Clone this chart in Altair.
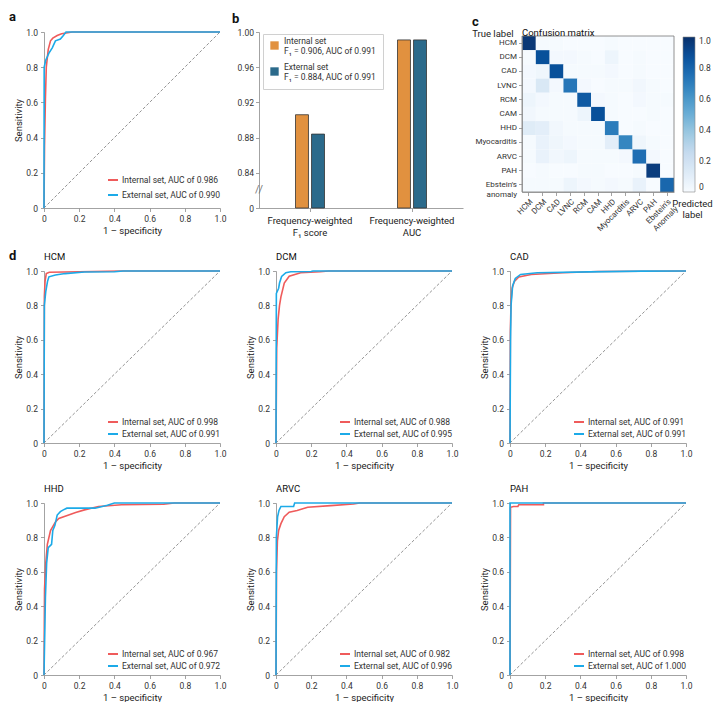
import altair as alt
import pandas as pd

FONT = "Roboto"
RED = "#EF5B5B"
BLUE = "#1CAAE8"
ORANGE = "#E1913F"
TEAL = "#2B6A8B"
AXIS_GRAY = "#8c8c8c"
TXT = "#222222"

ROC_TICKS = [0, 0.2, 0.4, 0.6, 0.8, 1.0]
ROC_LABEL = "datum.value == 0 ? '0' : format(datum.value, '.1f')"

# ---------------- panel a: overall ROC ----------------
A_INT_AUC, A_EXT_AUC = "0.986", "0.990"
A_INT_FPR = [0, 0.003, 0.008, 0.013, 0.024, 0.037, 0.05, 0.075, 0.1, 0.16, 0.3, 1.0]
A_INT_TPR = [0, 0.35, 0.62, 0.8, 0.9, 0.95, 0.965, 0.98, 0.99, 1.0, 1.0, 1.0]
A_EXT_FPR = [0, 0.001, 0.01, 0.028, 0.047, 0.065, 0.093, 0.11, 0.125, 1.0]
A_EXT_TPR = [0, 0.8, 0.84, 0.88, 0.91, 0.95, 0.96, 0.98, 1.0, 1.0]

# ---------------- panel b: bars ----------------
B_METRICS = ["F1", "AUC"]
B_SETS = ["Internal set", "External set"]
B_INTERNAL = [0.906, 0.991]
B_EXTERNAL = [0.884, 0.991]
B_TICKS = [0.80, 0.84, 0.88, 0.92, 0.96, 1.00]

# ---------------- panel c: confusion matrix ----------------
CM_CLASSES = ["HCM", "DCM", "CAD", "LVNC", "RCM", "CAM", "HHD", "Myocarditis",
              "ARVC", "PAH", "Ebstein's anomaly"]
CM_HCM = [0.97, 0.01, 0.01, 0.00, 0.00, 0.00, 0.01, 0.00, 0.00, 0.00, 0.00]
CM_DCM = [0.01, 0.88, 0.02, 0.02, 0.01, 0.00, 0.05, 0.00, 0.01, 0.00, 0.00]
CM_CAD = [0.02, 0.04, 0.88, 0.01, 0.01, 0.01, 0.02, 0.00, 0.01, 0.00, 0.00]
CM_LVNC = [0.02, 0.15, 0.02, 0.73, 0.02, 0.00, 0.01, 0.01, 0.03, 0.01, 0.00]
CM_RCM = [0.05, 0.02, 0.01, 0.01, 0.84, 0.02, 0.01, 0.00, 0.02, 0.01, 0.01]
CM_CAM = [0.03, 0.01, 0.01, 0.01, 0.05, 0.88, 0.01, 0.00, 0.00, 0.01, 0.00]
CM_HHD = [0.12, 0.10, 0.03, 0.01, 0.01, 0.01, 0.71, 0.00, 0.01, 0.00, 0.00]
CM_MYO = [0.01, 0.07, 0.04, 0.02, 0.01, 0.01, 0.10, 0.67, 0.04, 0.01, 0.00]
CM_ARVC = [0.01, 0.07, 0.03, 0.05, 0.01, 0.01, 0.01, 0.02, 0.76, 0.02, 0.00]
CM_PAH = [0.00, 0.01, 0.00, 0.00, 0.01, 0.01, 0.00, 0.00, 0.01, 0.95, 0.00]
CM_EBS = [0.01, 0.01, 0.01, 0.05, 0.02, 0.01, 0.02, 0.01, 0.07, 0.00, 0.79]
CM_ROWS = [CM_HCM, CM_DCM, CM_CAD, CM_LVNC, CM_RCM, CM_CAM, CM_HHD, CM_MYO,
           CM_ARVC, CM_PAH, CM_EBS]
BLUES = ["#f7fbff", "#deebf7", "#c6dbef", "#9ecae1", "#6baed6", "#4292c6",
         "#2171b5", "#08519c", "#08306b"]
CB_TICKS = [0, 0.2, 0.4, 0.6, 0.8, 1.0]

# ---------------- panel d: per-class ROC ----------------
HCM_AUC = ("0.998", "0.991")
HCM_INT_FPR = [0, 0.002, 0.006, 0.013, 0.03, 0.2, 0.44, 1.0]
HCM_INT_TPR = [0, 0.85, 0.94, 0.985, 0.993, 0.996, 1.0, 1.0]
HCM_EXT_FPR = [0, 0.002, 0.01, 0.02, 0.028, 0.065, 0.12, 0.23, 0.4, 0.45, 1.0]
HCM_EXT_TPR = [0, 0.8, 0.88, 0.94, 0.966, 0.977, 0.985, 0.994, 0.996, 1.0, 1.0]

DCM_AUC = ("0.988", "0.995")
DCM_INT_FPR = [0, 0.004, 0.012, 0.02, 0.028, 0.047, 0.075, 0.14, 0.25, 0.3, 1.0]
DCM_INT_TPR = [0, 0.55, 0.72, 0.8, 0.85, 0.93, 0.97, 0.99, 0.996, 1.0, 1.0]
DCM_EXT_FPR = [0, 0.002, 0.015, 0.02, 0.032, 0.056, 0.084, 0.2, 0.21, 1.0]
DCM_EXT_TPR = [0, 0.87, 0.9, 0.93, 0.968, 0.99, 0.996, 0.997, 1.0, 1.0]

CAD_AUC = ("0.991", "0.991")
CAD_INT_FPR = [0, 0.002, 0.006, 0.012, 0.025, 0.05, 0.12, 0.3, 0.5, 1.0]
CAD_INT_TPR = [0, 0.65, 0.82, 0.9, 0.94, 0.965, 0.98, 0.99, 0.997, 1.0]
CAD_EXT_FPR = [0, 0.003, 0.006, 0.015, 0.03, 0.06, 0.155, 0.45, 0.75, 1.0]
CAD_EXT_TPR = [0, 0.6, 0.8, 0.915, 0.957, 0.98, 0.99, 0.995, 0.999, 1.0]

HHD_AUC = ("0.967", "0.972")
HHD_INT_FPR = [0, 0.003, 0.01, 0.019, 0.037, 0.065, 0.084, 0.14, 0.18, 0.23, 0.31, 0.44, 0.68, 0.74, 1.0]
HHD_INT_TPR = [0, 0.5, 0.65, 0.76, 0.84, 0.89, 0.91, 0.93, 0.945, 0.96, 0.98, 0.99, 0.993, 1.0, 1.0]
HHD_EXT_FPR = [0, 0.008, 0.015, 0.024, 0.043, 0.05, 0.062, 0.075, 0.093, 0.11, 0.13, 0.29, 0.36, 0.4, 1.0]
HHD_EXT_TPR = [0, 0.45, 0.65, 0.74, 0.76, 0.84, 0.87, 0.93, 0.95, 0.96, 0.97, 0.97, 0.987, 1.0, 1.0]

ARVC_AUC = ("0.982", "0.996")
ARVC_INT_FPR = [0, 0.003, 0.008, 0.015, 0.028, 0.047, 0.075, 0.12, 0.18, 0.31, 0.44, 0.475, 1.0]
ARVC_INT_TPR = [0, 0.6, 0.78, 0.84, 0.88, 0.92, 0.947, 0.956, 0.975, 0.985, 0.994, 1.0, 1.0]
ARVC_EXT_FPR = [0, 0.002, 0.009, 0.017, 0.028, 0.1, 0.106, 1.0]
ARVC_EXT_TPR = [0, 0.8, 0.92, 0.957, 0.98, 0.98, 1.0, 1.0]

PAH_AUC = ("0.998", "1.000")
PAH_INT_FPR = [0, 0.003, 0.02, 0.045, 0.05, 0.19, 0.19, 1.0]
PAH_INT_TPR = [0, 0.975, 0.98, 0.98, 0.99, 0.99, 1.0, 1.0]
PAH_EXT_FPR = [0, 0, 1.0]
PAH_EXT_TPR = [0, 1.0, 1.0]

# ---------------- layout numbers ----------------
PW = 176          # ROC plot width
H0 = 179          # row-1 view height
PH_TOP = 176      # row-1 plot height
PH_D = 172        # row-d plot height
B_SHIFT = -17     # bar panel starts left of its column
C_SHIFT = 12      # heatmap starts right of its column
HM_W = 152
HM_TOP, HM_BOT = 4, 160


def text_layer(text, x, y, size, weight="normal", align="left", baseline="middle"):
    return alt.Chart(pd.DataFrame({"t": [text]})).mark_text(
        font=FONT, fontSize=size, fontWeight=weight, align=align,
        baseline=baseline, color="#111111"
    ).encode(text="t:N", x=alt.value(x), y=alt.value(y))


def roc_panel(int_fpr, int_tpr, ext_fpr, ext_tpr, aucs, view_w, view_h, plot_h,
              xoff, leg_y, row_pad, letter=None, title=None):
    lab_i = f"Internal set, AUC of {aucs[0]}"
    lab_e = f"External set, AUC of {aucs[1]}"
    di = pd.DataFrame({"fpr": int_fpr, "tpr": int_tpr, "i": list(range(len(int_fpr))), "set": lab_i})
    de = pd.DataFrame({"fpr": ext_fpr, "tpr": ext_tpr, "i": list(range(len(ext_fpr))), "set": lab_e})
    dd = pd.DataFrame({"fpr": [0, 1], "tpr": [0, 1], "i": [0, 1]})
    xs = alt.Scale(domain=[0, 1], range=[0, PW], nice=False, zero=False)
    ys = alt.Scale(domain=[0, 1], range=[plot_h, 0], nice=False, zero=False)
    xax = alt.Axis(values=ROC_TICKS, labelExpr=ROC_LABEL, title="1 – specificity", offset=xoff)
    yax = alt.Axis(values=ROC_TICKS, labelExpr=ROC_LABEL, title="Sensitivity")
    X = alt.X("fpr:Q", scale=xs, axis=xax)
    Y = alt.Y("tpr:Q", scale=ys, axis=yax)
    cs = alt.Scale(domain=[lab_i, lab_e], range=[RED, BLUE])
    leg = alt.Legend(orient="none", legendX=63, legendY=leg_y, title=None,
                     symbolType="stroke", symbolSize=100, symbolStrokeWidth=2,
                     labelOffset=3, rowPadding=row_pad, padding=0,
                     labelFontSize=8.5, labelColor="#333333")
    diag = alt.Chart(dd).mark_line(color="#777777", strokeDash=[3, 2], strokeWidth=0.8).encode(
        x=X, y=Y, order="i:Q")
    li = alt.Chart(di).mark_line(strokeWidth=1.6).encode(
        x=X, y=Y, order="i:Q", color=alt.Color("set:N", scale=cs, legend=leg))
    le = alt.Chart(de).mark_line(strokeWidth=1.6).encode(
        x=X, y=Y, order="i:Q", color=alt.Color("set:N", scale=cs, legend=leg))
    layers = [diag, li, le]
    if title:
        layers.append(text_layer(title, 0, -14, 9.5))
    if letter:
        layers.append(text_layer(letter, -35, -11, 13, weight="bold", baseline="alphabetic"))
    return alt.layer(*layers).properties(width=view_w, height=view_h)


# panel a
pa = roc_panel(A_INT_FPR, A_INT_TPR, A_EXT_FPR, A_EXT_TPR, (A_INT_AUC, A_EXT_AUC),
               176, H0, PH_TOP, PH_TOP - H0, 142, 4, letter="a")

# panel b
bar_df = pd.DataFrame({
    "metric": B_METRICS * 2,
    "set": [B_SETS[0]] * 2 + [B_SETS[1]] * 2,
    "value": B_INTERNAL + B_EXTERNAL,
})
b_leg_expr = (
    f"datum.label == '{B_SETS[0]}' ? ['{B_SETS[0]}', 'F₁ = {B_INTERNAL[0]:.3f}, AUC of {B_INTERNAL[1]:.3f}']"
    f" : ['{B_SETS[1]}', 'F₁ = {B_EXTERNAL[0]:.3f}, AUC of {B_EXTERNAL[1]:.3f}']"
)
b_x_expr = "datum.value == 'F1' ? ['Frequency-weighted', 'F₁ score'] : ['Frequency-weighted', 'AUC']"
ysb = alt.Scale(domain=[0.8, 1.0], range=[PH_TOP, 0], nice=False, zero=False)
yaxb = alt.Axis(values=B_TICKS, labelExpr="datum.value < 0.81 ? '0' : format(datum.value, '.2f')",
                title=None, labelPadding=2, offset=-B_SHIFT)
bars = alt.Chart(bar_df).mark_bar(stroke="#333333", strokeWidth=0.8).encode(
    x=alt.X("metric:N", sort=B_METRICS,
            scale=alt.Scale(range=[B_SHIFT, B_SHIFT + 204], paddingInner=0, paddingOuter=0),
            axis=alt.Axis(title=None, labelExpr=b_x_expr, labelAngle=0, labelFontSize=9.5,
                          labelColor=TXT, labelPadding=4, offset=PH_TOP - H0)),
    xOffset=alt.XOffset("set:N", sort=B_SETS,
                        scale=alt.Scale(range=[36.5, 65.5], paddingInner=0.19, paddingOuter=0)),
    y=alt.Y("value:Q", scale=ysb, axis=yaxb),
    y2=alt.datum(0.8),
    color=alt.Color("set:N", sort=B_SETS, scale=alt.Scale(domain=B_SETS, range=[ORANGE, TEAL]),
                    legend=alt.Legend(orient="none", legendX=B_SHIFT + 4, legendY=2, title=None,
                                      symbolType="square", symbolSize=70, symbolStrokeWidth=0,
                                      labelOffset=5, rowPadding=6, padding=7,
                                      strokeColor="#d0d0d0", fillColor="#ffffff",
                                      labelFontSize=8.5, labelColor="#333333",
                                      labelBaseline="bottom",
                                      labelExpr=b_leg_expr)),
)
brk = alt.Chart(pd.DataFrame({"v": [0.82]})).mark_text(
    text="//", fontSize=11, color="#777777", font=FONT).encode(
    x=alt.value(B_SHIFT), y=alt.Y("v:Q", scale=ysb, axis=yaxb))
pb = alt.layer(bars, brk,
               text_layer("b", B_SHIFT - 27, -9, 13, weight="bold", baseline="alphabetic")
               ).properties(width=B_SHIFT + 204, height=H0)

# panel c
cm_df = pd.DataFrame([
    {"true": t, "pred": p, "v": CM_ROWS[i][j]}
    for i, t in enumerate(CM_CLASSES) for j, p in enumerate(CM_CLASSES)
])
y_lab_expr = 'datum.value == "Ebstein\'s anomaly" ? ["Ebstein\'s", "anomaly"] : datum.label'
x_lab_expr = 'datum.value == "Ebstein\'s anomaly" ? ["Ebstein\'s", "Anomaly"] : datum.label'
heat = alt.Chart(cm_df).mark_rect().encode(
    x=alt.X("pred:N", sort=CM_CLASSES,
            scale=alt.Scale(range=[C_SHIFT, C_SHIFT + HM_W], paddingInner=0, paddingOuter=0),
            axis=alt.Axis(labelAngle=-45, labelFontSize=8, labelExpr=x_lab_expr,
                          offset=HM_BOT - H0, tickSize=3.5, labelPadding=2,
                          title=["Predicted", "label"], titleX=C_SHIFT + 170, titleY=6,
                          titleAngle=0, titleAlign="center", titleBaseline="top",
                          titleFontSize=9.5)),
    y=alt.Y("true:N", sort=CM_CLASSES,
            scale=alt.Scale(range=[HM_TOP, HM_BOT], paddingInner=0, paddingOuter=0),
            axis=alt.Axis(labelFontSize=8, labelExpr=y_lab_expr, tickSize=3.5, labelPadding=2,
                          offset=-C_SHIFT,
                          title="True label", titleAngle=0, titleAlign="right", titleX=-9,
                          titleY=1, titleBaseline="middle", titleFontSize=9.5)),
    color=alt.Color("v:Q", scale=alt.Scale(domain=[0, 1], range=BLUES),
                    legend=alt.Legend(orient="none", legendX=C_SHIFT + 161, legendY=5, title=None,
                                      direction="vertical", gradientLength=155,
                                      gradientThickness=12, gradientStrokeColor="#888888",
                                      gradientStrokeWidth=0.6, values=CB_TICKS,
                                      labelExpr=ROC_LABEL, labelFontSize=8.5,
                                      labelOffset=4, padding=0, labelColor="#333333")),
)
frame = alt.Chart(pd.DataFrame({"f": [1]})).mark_rect(
    fillOpacity=0, stroke="#777777", strokeWidth=0.8).encode(
    x=alt.value(C_SHIFT), x2=alt.value(C_SHIFT + HM_W), y=alt.value(HM_TOP), y2=alt.value(HM_BOT))
pc = alt.layer(
    heat, frame,
    text_layer("Confusion matrix", C_SHIFT, 1, 9.5),
    text_layer("c", C_SHIFT - 50, -6, 13, weight="bold", baseline="alphabetic"),
).properties(width=C_SHIFT + HM_W, height=H0)

# panel d
p_hcm = roc_panel(HCM_INT_FPR, HCM_INT_TPR, HCM_EXT_FPR, HCM_EXT_TPR, HCM_AUC,
                  192, PH_D, PH_D, 0, 145, 1, letter="d", title="HCM")
p_dcm = roc_panel(DCM_INT_FPR, DCM_INT_TPR, DCM_EXT_FPR, DCM_EXT_TPR, DCM_AUC,
                  194, PH_D, PH_D, 0, 145, 1, title="DCM")
p_cad = roc_panel(CAD_INT_FPR, CAD_INT_TPR, CAD_EXT_FPR, CAD_EXT_TPR, CAD_AUC,
                  176, PH_D, PH_D, 0, 145, 1, title="CAD")
p_hhd = roc_panel(HHD_INT_FPR, HHD_INT_TPR, HHD_EXT_FPR, HHD_EXT_TPR, HHD_AUC,
                  192, PH_D, PH_D, 0, 145, 1, title="HHD")
p_arvc = roc_panel(ARVC_INT_FPR, ARVC_INT_TPR, ARVC_EXT_FPR, ARVC_EXT_TPR, ARVC_AUC,
                   194, PH_D, PH_D, 0, 145, 1, title="ARVC")
p_pah = roc_panel(PAH_INT_FPR, PAH_INT_TPR, PAH_EXT_FPR, PAH_EXT_TPR, PAH_AUC,
                  176, PH_D, PH_D, 0, 145, 1, title="PAH")

chart = alt.concat(
    pa, pb, pc, p_hcm, p_dcm, p_cad, p_hhd, p_arvc, p_pah,
    columns=3,
    spacing={"row": 60, "column": 40},
    bounds="flush",
    align="each",
).resolve_scale(
    x="independent", y="independent", color="independent"
).resolve_legend(color="independent").properties(
    padding={"left": 1, "top": 3, "right": 0, "bottom": 0}
).configure(font=FONT).configure_view(strokeWidth=0).configure_axis(
    domainColor=AXIS_GRAY, tickColor=AXIS_GRAY, domainWidth=0.8, tickWidth=0.8,
    tickSize=3.5, labelColor="#333333", titleColor=TXT, labelFont=FONT, titleFont=FONT,
    labelFontSize=8.5, titleFontSize=9.5, titleFontWeight="normal", grid=False,
    labelFlush=False, labelPadding=3, titlePadding=2,
).configure_legend(labelFont=FONT)

chart.save("out.html", embed_options={"renderer": "svg", "actions": False})
